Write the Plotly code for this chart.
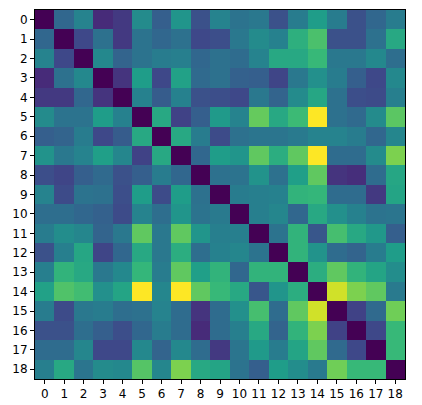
import plotly.graph_objects as go

labels = [str(i) for i in range(19)]

# values (0 = dark purple, 1 = yellow)
row00 = [0.00, 0.33, 0.45, 0.12, 0.17, 0.48, 0.30, 0.52, 0.25, 0.45, 0.38, 0.40, 0.25, 0.42, 0.55, 0.42, 0.25, 0.33, 0.42]
row01 = [0.33, 0.00, 0.22, 0.37, 0.17, 0.38, 0.33, 0.37, 0.22, 0.24, 0.40, 0.48, 0.44, 0.63, 0.71, 0.25, 0.25, 0.37, 0.60]
row02 = [0.45, 0.22, 0.00, 0.47, 0.32, 0.38, 0.42, 0.43, 0.33, 0.37, 0.35, 0.45, 0.60, 0.60, 0.67, 0.40, 0.40, 0.47, 0.36]
row03 = [0.12, 0.37, 0.47, 0.00, 0.15, 0.55, 0.22, 0.57, 0.34, 0.37, 0.31, 0.30, 0.21, 0.40, 0.50, 0.42, 0.30, 0.22, 0.47]
row04 = [0.17, 0.17, 0.33, 0.15, 0.00, 0.44, 0.29, 0.44, 0.25, 0.24, 0.22, 0.40, 0.32, 0.48, 0.59, 0.37, 0.24, 0.23, 0.43]
row05 = [0.48, 0.38, 0.38, 0.55, 0.44, 0.00, 0.60, 0.20, 0.30, 0.54, 0.45, 0.76, 0.60, 0.68, 1.00, 0.37, 0.34, 0.48, 0.74]
row06 = [0.30, 0.32, 0.42, 0.22, 0.29, 0.60, 0.00, 0.60, 0.42, 0.23, 0.37, 0.39, 0.39, 0.41, 0.45, 0.45, 0.42, 0.33, 0.46]
row07 = [0.51, 0.40, 0.45, 0.56, 0.46, 0.20, 0.60, 0.00, 0.33, 0.55, 0.52, 0.75, 0.62, 0.75, 1.00, 0.35, 0.35, 0.48, 0.80]
row08 = [0.24, 0.21, 0.30, 0.34, 0.25, 0.30, 0.42, 0.33, 0.00, 0.37, 0.38, 0.51, 0.37, 0.56, 0.75, 0.15, 0.13, 0.35, 0.59]
row09 = [0.45, 0.23, 0.38, 0.37, 0.24, 0.55, 0.23, 0.55, 0.37, 0.00, 0.42, 0.43, 0.44, 0.65, 0.66, 0.35, 0.35, 0.17, 0.58]
row10 = [0.36, 0.36, 0.33, 0.31, 0.23, 0.45, 0.36, 0.52, 0.38, 0.41, 0.00, 0.43, 0.46, 0.33, 0.60, 0.50, 0.44, 0.38, 0.39]
row11 = [0.42, 0.49, 0.46, 0.32, 0.40, 0.75, 0.40, 0.75, 0.52, 0.43, 0.43, 0.00, 0.38, 0.65, 0.27, 0.70, 0.60, 0.53, 0.30]
row12 = [0.25, 0.43, 0.59, 0.21, 0.33, 0.60, 0.40, 0.62, 0.36, 0.44, 0.46, 0.38, 0.00, 0.65, 0.51, 0.35, 0.32, 0.42, 0.55]
row13 = [0.43, 0.65, 0.60, 0.40, 0.47, 0.66, 0.42, 0.75, 0.56, 0.65, 0.33, 0.65, 0.65, 0.00, 0.62, 0.75, 0.65, 0.58, 0.49]
row14 = [0.57, 0.72, 0.69, 0.50, 0.58, 1.00, 0.46, 1.00, 0.75, 0.67, 0.60, 0.27, 0.52, 0.62, 0.00, 0.93, 0.80, 0.75, 0.41]
row15 = [0.42, 0.23, 0.40, 0.42, 0.36, 0.37, 0.45, 0.35, 0.15, 0.35, 0.50, 0.70, 0.35, 0.75, 0.93, 0.00, 0.20, 0.34, 0.78]
row16 = [0.25, 0.25, 0.36, 0.30, 0.24, 0.33, 0.42, 0.35, 0.12, 0.35, 0.43, 0.60, 0.32, 0.65, 0.80, 0.20, 0.00, 0.22, 0.67]
row17 = [0.35, 0.35, 0.46, 0.22, 0.22, 0.47, 0.32, 0.47, 0.35, 0.17, 0.39, 0.54, 0.42, 0.58, 0.75, 0.34, 0.22, 0.00, 0.67]
row18 = [0.43, 0.60, 0.39, 0.48, 0.47, 0.73, 0.46, 0.80, 0.60, 0.58, 0.38, 0.30, 0.55, 0.49, 0.41, 0.78, 0.67, 0.67, 0.00]

z = [row00, row01, row02, row03, row04, row05, row06, row07, row08, row09,
     row10, row11, row12, row13, row14, row15, row16, row17, row18]

fig = go.Figure(go.Heatmap(
    z=z,
    x=list(range(19)),
    y=list(range(19)),
    colorscale="Viridis",
    zmin=0, zmax=1,
    showscale=False,
))

axis_style = dict(
    tickmode="array",
    tickvals=list(range(19)),
    ticktext=labels,
    ticks="outside",
    ticklen=4,
    tickcolor="black",
    showline=True,
    linecolor="black",
    linewidth=1,
    mirror=True,
    showgrid=False,
    zeroline=False,
    automargin=False,
    tickfont=dict(family="DejaVu Sans", size=12, color="black"),
)
fig.update_xaxes(**axis_style, range=[-0.5, 18.5])
fig.update_yaxes(**axis_style, range=[18.5, -0.5])

# page body adds an 8px offset, so the figure is 8px smaller and left/top margins shifted
fig.update_layout(
    width=414, height=397,
    margin=dict(l=27, r=17, t=2, b=26),
    paper_bgcolor="white",
    plot_bgcolor="white",
)

fig.write_html("out.html")
